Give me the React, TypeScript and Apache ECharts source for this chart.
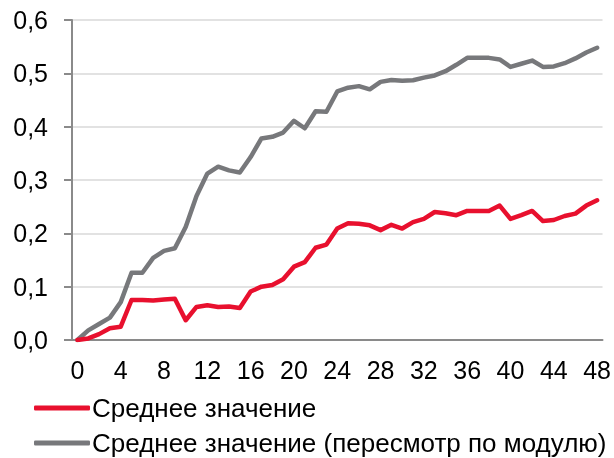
import React, { useEffect, useRef } from "react";
import * as echarts from "echarts";

const categories: string[] = Array.from({ length: 49 }, (_, i) => String(i));

const meanValues: number[] = [
  0, 0.003, 0.011, 0.022, 0.025, 0.075, 0.075, 0.074, 0.076, 0.0775,
  0.037, 0.062, 0.065, 0.062, 0.063, 0.06, 0.091, 0.1, 0.103, 0.114,
  0.1375, 0.146, 0.173, 0.179, 0.209, 0.219, 0.218, 0.215, 0.206, 0.216,
  0.209, 0.221, 0.227, 0.24, 0.2375, 0.234, 0.242, 0.242, 0.242, 0.252,
  0.227, 0.234, 0.242, 0.223, 0.225, 0.2325, 0.237, 0.252, 0.262,
];

const absMeanValues: number[] = [
  0, 0.018, 0.03, 0.042, 0.071, 0.126, 0.126, 0.154, 0.167, 0.172,
  0.212, 0.27, 0.312, 0.325, 0.318, 0.314, 0.343, 0.378, 0.381, 0.389,
  0.411, 0.397, 0.429, 0.428, 0.466, 0.473, 0.476, 0.47, 0.484, 0.4875,
  0.486, 0.487, 0.492, 0.496, 0.504, 0.516, 0.529, 0.529, 0.529, 0.526,
  0.512, 0.518, 0.524, 0.512, 0.513, 0.519, 0.528, 0.539, 0.548,
];

const seriesNames: string[] = [
  "Среднее значение",
  "Среднее значение (пересмотр по модулю)",
];

const FONT = "'Liberation Sans', Arial, sans-serif";

export default function App() {
  const ref = useRef<HTMLDivElement>(null);
  useEffect(() => {
    if (!ref.current) return;
    const chart = echarts.init(ref.current, undefined, { renderer: "svg" });
    chart.setOption({
      animation: false,
      textStyle: { fontFamily: FONT },
      grid: { left: 72, right: 11, top: 20, bottom: 118, containLabel: false },
      legend: {
        orient: "vertical",
        left: 34,
        top: 395,
        height: 64,
        padding: 0,
        itemWidth: 56,
        itemHeight: 5,
        itemGap: 9,
        icon: "roundRect",
        textStyle: {
          fontFamily: FONT,
          fontSize: 26,
          lineHeight: 26,
          color: "#000",
          padding: [0, 0, 0, -3],
        },
        data: seriesNames,
      },
      xAxis: {
        type: "category",
        data: categories,
        boundaryGap: true,
        axisLine: { lineStyle: { color: "#8a8a8a", width: 2 } },
        axisTick: { interval: 3, length: 6, lineStyle: { color: "#8a8a8a", width: 2 } },
        axisLabel: { interval: 3, fontSize: 25, color: "#000", margin: 17, fontFamily: FONT },
        splitLine: { show: false },
      },
      yAxis: {
        type: "value",
        min: 0,
        max: 0.6,
        interval: 0.1,
        axisLine: { show: true, lineStyle: { color: "#8a8a8a", width: 2 } },
        axisTick: { show: true, length: 8, lineStyle: { color: "#8a8a8a", width: 2 } },
        axisLabel: {
          fontSize: 25,
          color: "#000",
          margin: 24,
          fontFamily: FONT,
          formatter: (v: number) => v.toFixed(1).replace(".", ","),
        },
        splitLine: { lineStyle: { color: "#d9d9d9", width: 1.5 } },
      },
      series: [
        {
          name: seriesNames[0],
          type: "line",
          data: meanValues,
          symbol: "none",
          z: 3,
          color: "#e8102e",
          lineStyle: { color: "#e8102e", width: 4.5, cap: "round", join: "round" },
        },
        {
          name: seriesNames[1],
          type: "line",
          data: absMeanValues,
          symbol: "none",
          z: 2,
          color: "#77787b",
          lineStyle: { color: "#77787b", width: 4.5, cap: "round", join: "round" },
        },
      ],
    });
    return () => chart.dispose();
  }, []);
  return (
    <div
      ref={ref}
      style={{ position: "fixed", left: 0, top: 0, width: 614, height: 458 }}
    />
  );
}
